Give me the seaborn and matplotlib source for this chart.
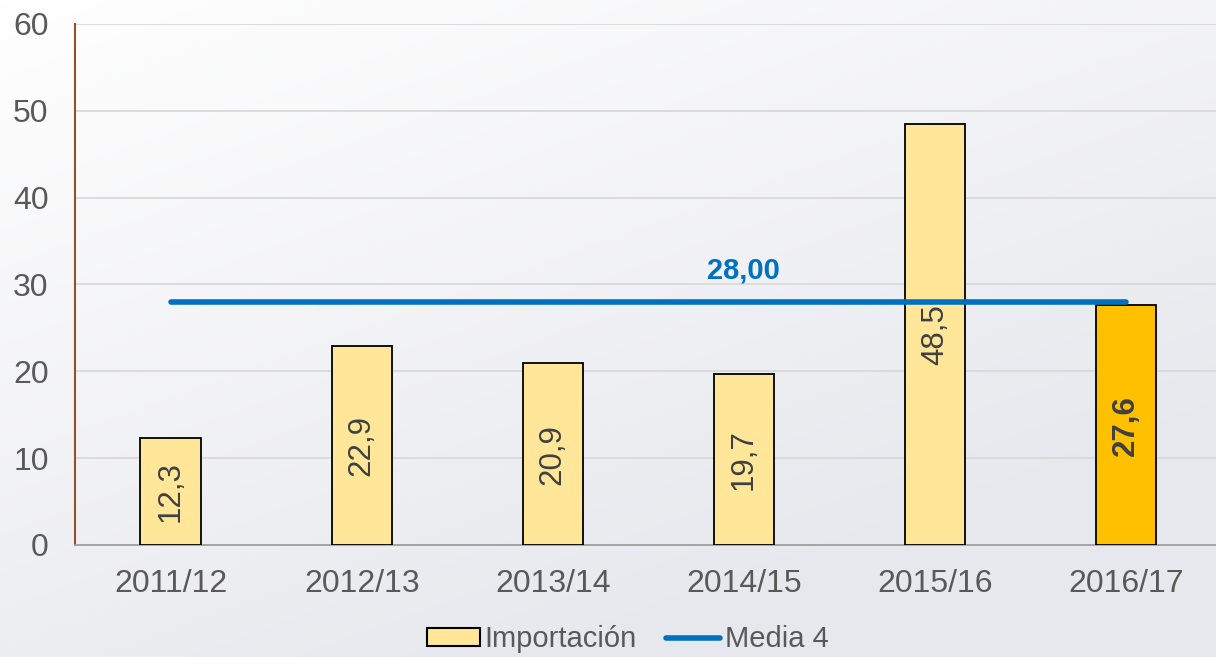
import matplotlib
matplotlib.use("Agg")
import matplotlib.pyplot as plt
import numpy as np
import pandas as pd
import seaborn as sns
from matplotlib.patches import Patch
from matplotlib.lines import Line2D

campanas = ["2011/12", "2012/13", "2013/14", "2014/15", "2015/16", "2016/17"]
importacion = [12.3, 22.9, 20.9, 19.7, 48.5, 27.6]
media4 = [28.0, 28.0, 28.0, 28.0, 28.0, 28.0]
etiquetas = ["12,3", "22,9", "20,9", "19,7", "48,5", "27,6"]

sns.set_theme(style="white")
plt.rcParams["font.family"] = ["Liberation Sans", "DejaVu Sans"]

fig = plt.figure(figsize=(12.16, 6.57), dpi=100)

# fondo degradado
bg = fig.add_axes([0, 0, 1, 1], zorder=-10)
gx, gy = np.meshgrid(np.linspace(0, 1, 200), np.linspace(0, 1, 200))
g = np.clip((gx * 0.6 + gy * 0.9) / 1.2, 0, 1)
c0 = np.array([1.0, 1.0, 1.0])
c1 = np.array([0.905, 0.91, 0.93])
img = c0[None, None, :] * (1 - g[..., None]) + c1[None, None, :] * g[..., None]
bg.imshow(img, aspect="auto", extent=[0, 1, 0, 1], origin="upper")
bg.axis("off")

ax = fig.add_axes([0.0617, 0.1705, 0.943, 0.793])
ax.set_facecolor("none")

df = pd.DataFrame({"campana": campanas, "imp": importacion})
colores = ["#FFE699"] * 5 + ["#FFC000"]
sns.barplot(data=df, x="campana", y="imp", hue="campana", palette=colores,
            legend=False, width=0.315, edgecolor="black", linewidth=1.3,
            saturation=1, ax=ax, zorder=3)

ax.plot(range(len(campanas)), media4, color="#0070C0", lw=4,
        solid_capstyle="round", zorder=4)
ax.text(3, 31.6, "28,00", color="#0070C0", fontsize=21, fontweight="bold",
        ha="center", va="center", zorder=5)

for i, (v, t) in enumerate(zip(importacion, etiquetas)):
    bold = i == len(importacion) - 1
    ax.text(i, v / 2, t, rotation=90, ha="center", va="center",
            fontsize=22.5, color="#404040",
            fontweight="bold" if bold else "normal", zorder=5)

ax.set_ylim(0, 60)
ax.set_xlim(-0.5, 5.5)
ax.set_yticks(range(0, 61, 10))
ax.yaxis.grid(True, color="#D9D9D9", lw=1.3, zorder=0)
ax.set_axisbelow(True)
ax.set_xlabel("")
ax.set_ylabel("")
ax.tick_params(axis="both", length=0, labelsize=23, colors="#595959")
ax.tick_params(axis="x", pad=17)
ax.tick_params(axis="y", pad=19)
for s in ["top", "right"]:
    ax.spines[s].set_visible(False)
ax.spines["left"].set_color("#954F29")
ax.spines["left"].set_linewidth(1.5)
ax.spines["bottom"].set_color("#A0A0A0")
ax.spines["bottom"].set_linewidth(1.3)

handles = [Patch(facecolor="#FFE699", edgecolor="black", linewidth=1.5),
           Line2D([0], [0], color="#0070C0", lw=4)]
fig.legend(handles, ["Importación", "Media 4"], loc="center",
           bbox_to_anchor=(0.516, 0.027), ncol=2, frameon=False,
           fontsize=21, labelcolor="#595959", handlelength=1.85,
           handletextpad=0.15, columnspacing=1.0, handleheight=0.55)

fig.savefig("out.png", dpi=100)
